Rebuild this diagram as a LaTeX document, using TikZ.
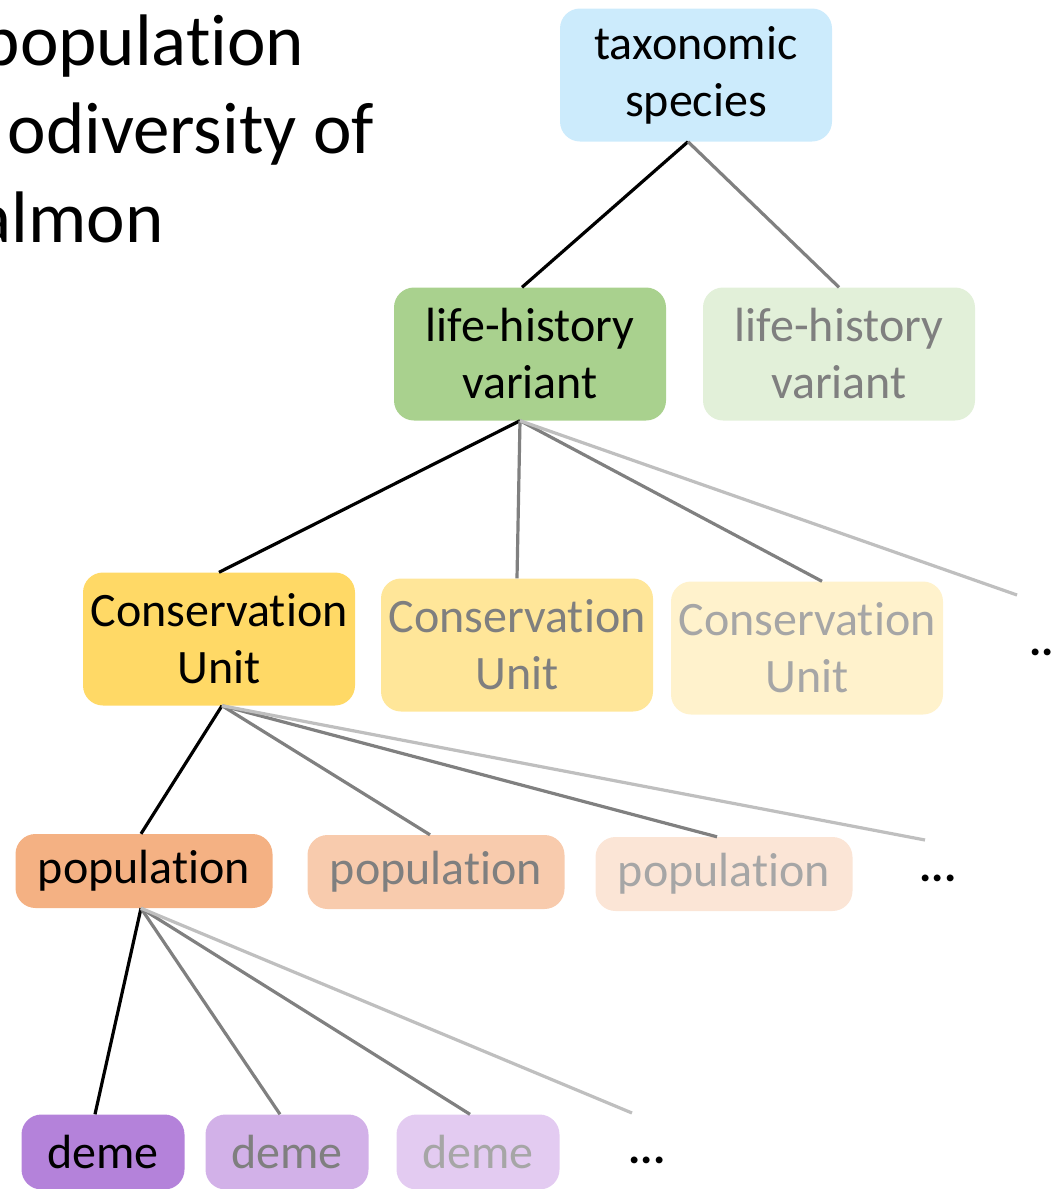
\documentclass[tikz,border=0pt]{standalone}
\usepackage{fontspec}
\setmainfont{Carlito}[Ligatures=NoCommon]
\usepackage{tikz}

\definecolor{speciesblue}{RGB}{204,235,252}
\definecolor{lhgreen}{RGB}{169,209,142}
\definecolor{lhgreenpale}{RGB}{226,240,217}
\definecolor{cugold}{RGB}{255,217,102}
\definecolor{cugoldpale}{RGB}{255,230,153}
\definecolor{cugoldpaler}{RGB}{255,242,204}
\definecolor{poporange}{RGB}{244,177,131}
\definecolor{poporangepale}{RGB}{248,203,173}
\definecolor{poporangepaler}{RGB}{251,229,214}
\definecolor{demepurple}{RGB}{180,130,218}
\definecolor{demepurplepale}{RGB}{210,177,232}
\definecolor{demepurplepaler}{RGB}{227,203,241}
\definecolor{textgrey}{RGB}{127,127,127}
\definecolor{textpale}{RGB}{166,166,166}
\definecolor{edgegrey}{RGB}{128,128,128}
\definecolor{edgepale}{RGB}{191,191,191}

\begin{document}
\begin{tikzpicture}[x=1pt, y=-1pt]
	\tikzset{box/.style = {rounded corners=20pt, align=center, inner sep=0pt,
		text=black, font=\fontsize{48}{57}\selectfont}}
	\tikzset{wide/.style = {box, minimum width=272pt, minimum height=133pt}}
	\tikzset{pop/.style = {box, minimum width=257pt, minimum height=74pt}}
	\tikzset{demebox/.style = {box, minimum width=163pt, minimum height=75pt}}
	\tikzset{dots/.style = {box, font=\bfseries\fontsize{46}{57}\selectfont}}
	\tikzset{edge/.style = {line width=3.2pt, black}}
	\tikzset{edge2/.style = {line width=3.2pt, edgegrey}}
	\tikzset{edge3/.style = {line width=3.2pt, edgepale}}
	\useasboundingbox (0,0) rectangle (1051,1189);
	\clip (0,0) rectangle (1051,1189);
	% title, cut at the left edge
	\node[anchor=base east, font=\fontsize{73}{89}\selectfont] (t1) at (308,65) {population};
	\node[anchor=base west, font=\fontsize{73}{89}\selectfont] (t2) at (4,153) {odiversity of};
	\node[anchor=base east, font=\fontsize{73}{89}\selectfont] (t3) at (167,242) {almon};
	% boxes
	\node[wide, fill=speciesblue] (tax) at (696,75) {taxonomic\\species};
	\node[wide, fill=lhgreen] (lhv1) at (530,354) {life-history\\variant};
	\node[wide, fill=lhgreenpale, text=textgrey] (lhv2) at (839,354) {life-history\\variant};
	\node[wide, fill=cugold] (cu1) at (219,639) {Conservation\\Unit};
	\node[wide, fill=cugoldpale, text=textgrey] (cu2) at (517,645) {Conservation\\Unit};
	\node[wide, fill=cugoldpaler, text=textpale] (cu3) at (807,648) {Conservation\\Unit};
	\node[dots] (cudots) at (1048,652) {...};
	\node[pop, fill=poporange] (pop1) at (144,871) {population};
	\node[pop, fill=poporangepale, text=textgrey] (pop2) at (436,872) {population};
	\node[pop, fill=poporangepaler, text=textpale] (pop3) at (724,874) {population};
	\node[dots] (popdots) at (938,878) {...};
	\node[demebox, fill=demepurple] (deme1) at (103,1152) {deme};
	\node[demebox, fill=demepurplepale, text=textgrey] (deme2) at (287,1152) {deme};
	\node[demebox, fill=demepurplepaler, text=textpale] (deme3) at (478,1152) {deme};
	\node[dots] (demedots) at (647,1160) {...};
	\coordinate (cuend) at (1017,595);
	\coordinate (popend) at (925,840);
	\coordinate (demeend) at (632,1113);
	% connectors
	\draw[edge] ([xshift=-8pt]tax.south) -- ([xshift=-8pt]lhv1.north);
	\draw[edge2] ([xshift=-8pt]tax.south) -- (lhv2.north);
	\draw[edge] ([xshift=-10pt]lhv1.south) -- (cu1.north);
	\draw[edge2] ([xshift=-10pt]lhv1.south) -- (cu2.north);
	\draw[edge2] ([xshift=-10pt]lhv1.south) -- ([xshift=15pt]cu3.north);
	\draw[edge3] ([xshift=-10pt]lhv1.south) -- (cuend);
	\draw[edge] ([xshift=3pt]cu1.south) -- ([xshift=-3pt]pop1.north);
	\draw[edge2] ([xshift=3pt]cu1.south) -- ([xshift=-6pt]pop2.north);
	\draw[edge2] ([xshift=3pt]cu1.south) -- ([xshift=-7pt]pop3.north);
	\draw[edge3] ([xshift=3pt]cu1.south) -- (popend);
	\draw[edge] ([xshift=-3pt]pop1.south) -- ([xshift=-8pt]deme1.north);
	\draw[edge2] ([xshift=-3pt]pop1.south) -- ([xshift=-7pt]deme2.north);
	\draw[edge2] ([xshift=-3pt]pop1.south) -- ([xshift=-8pt]deme3.north);
	\draw[edge3] ([xshift=-3pt]pop1.south) -- (demeend);
\end{tikzpicture}
\end{document}
